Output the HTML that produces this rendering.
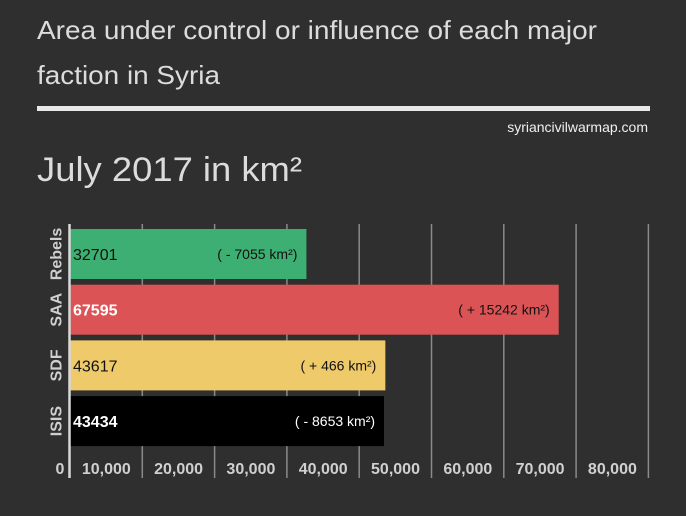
<!DOCTYPE html>
<html><head><meta charset="utf-8"><style>
body{margin:0;background:#2f2f2f;width:686px;height:511px;overflow:hidden;font-family:"Liberation Sans",sans-serif}
</style></head><body>
<svg width="686" height="511" id="c">
<rect width="686" height="511" fill="#2f2f2f"/>
<text x="37" y="39" font-size="26" textLength="560" lengthAdjust="spacingAndGlyphs" fill="#dcdcdc">Area under control or influence of each major</text>
<text x="37" y="84" font-size="26" textLength="183" lengthAdjust="spacingAndGlyphs" fill="#dcdcdc">faction in Syria</text>
<rect x="37" y="106" width="613" height="5" fill="#e8e8e8"/>
<text x="648" y="132" font-size="14" fill="#f0f0f0" text-anchor="end">syriancivilwarmap.com</text>
<text x="37" y="181" font-size="34" textLength="265" lengthAdjust="spacingAndGlyphs" fill="#dcdcdc">July 2017 in km²</text>
<g id="grid"></g><g id="bars"></g><g id="ticks"></g>
</svg>
<script>
const categories=["Rebels","SAA","SDF","ISIS"];
const values=[32701,67595,43617,43434];
const changes=["( - 7055 km²)","( + 15242 km²)","( + 466 km²)","( - 8653 km²)"];
const colors=["#3daf72","#dc5356","#efca6a","#000000"];
const valueColors=["#111","#fff","#111","#fff"];
const tickValues=[0,10000,20000,30000,40000,50000,60000,70000,80000];
const tickLabels=["0","10,000","20,000","30,000","40,000","50,000","60,000","70,000","80,000"];
const NS="http://www.w3.org/2000/svg";
const x0=70,pxPer=72.3/10000;
const xs=v=>x0+v*pxPer;
const yTop=229,band=55.7,bh=50;
function mk(t,a,p){const e=document.createElementNS(NS,t);for(const k in a)e.setAttribute(k,a[k]);p.appendChild(e);return e;}
const grid=document.getElementById('grid'),bars=document.getElementById('bars'),ticks=document.getElementById('ticks');
tickValues.forEach((v,i)=>{
  if(i>0){const l=mk('line',{x1:xs(v),x2:xs(v),y1:224,y2:478,stroke:'#8a8a8a','stroke-width':1.5},grid);
  
  }
  const t=mk('text',{x:i==0?60:xs(v)-36,y:474,'font-size':16,'font-weight':'bold',fill:'#d0d0d0','text-anchor':'middle'},ticks);
  t.textContent=tickLabels[i];
  
  
});
categories.forEach((c,i)=>{
  const y=yTop+i*band;
  const r=mk('rect',{x:x0,y:y,width:xs(values[i])-x0,height:bh,fill:colors[i]},bars);
  
  
  const vt=mk('text',{x:73,y:y+31,'font-size':16,'font-weight':(i%2?'bold':'normal'),fill:valueColors[i]},bars);
  vt.textContent=values[i];
  
  
  const ct=mk('text',{x:xs(values[i])-9,y:y+30,'font-size':14,fill:i==3?'#fff':'#111','text-anchor':'end'},bars);
  ct.textContent=changes[i];
  
  
  const cx=57,cy=y+bh/2;
  const lt=mk('text',{x:cx,y:cy,'font-size':16,'font-weight':'bold',fill:'#d0d0d0','text-anchor':'middle','dominant-baseline':'central',transform:`rotate(-90 ${cx} ${cy})`},bars);
  lt.textContent=c;
  
  
});
const ax=mk('line',{x1:69.5,x2:69.5,y1:224,y2:478,stroke:'#d8d8d8','stroke-width':2.5},bars);


</script>
</body></html>
